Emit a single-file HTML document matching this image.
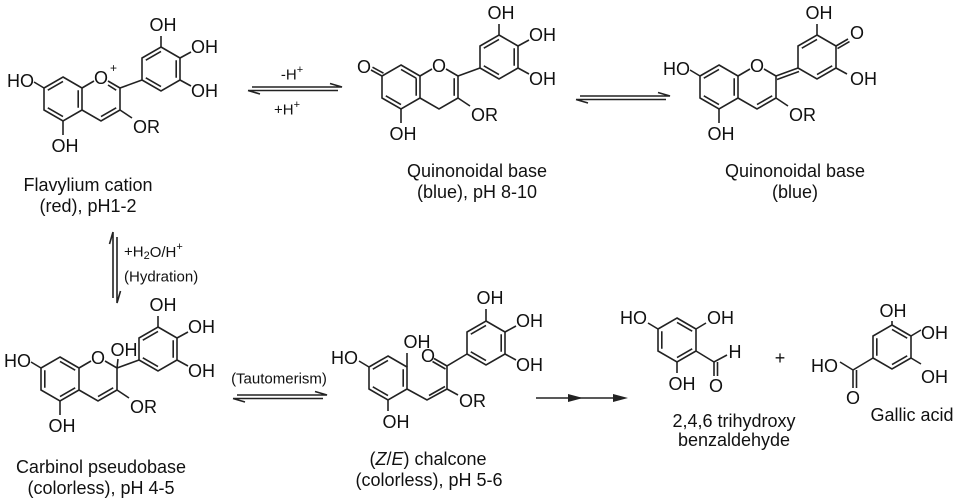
<!DOCTYPE html>
<html><head><meta charset="utf-8"><style>
html,body{margin:0;padding:0;background:#fff;}
svg{display:block;}
text{font-family:"Liberation Sans",Arial,sans-serif;fill:#111;}
.a{font-size:18px;dominant-baseline:central;}
.l{font-size:18px;text-anchor:middle;dominant-baseline:central;}
.s{font-size:15px;dominant-baseline:central;}
path,line{stroke:#222;stroke-width:1.6;fill:none;}
</style></head><body>
<svg width="957" height="498" viewBox="0 0 957 498" xmlns="http://www.w3.org/2000/svg">

<!-- Molecule 1: Flavylium -->
<g>
 <g transform="translate(63,99)">
  <path d="M0,-22 L19,-11 L19,11 L0,22 L-19,11 L-19,-11 Z"/>
  <path d="M-15.2,-8.8 L0,-17.6 M15.2,-8.8 L15.2,8.8 M0,17.6 L-15.2,8.8"/>
 </g>
 <g transform="translate(101,99)">
  <path d="M-19,-11 L-7,-18 M7,-18 L19,-11 L19,11 L0,22 L-19,11"/>
  <path d="M7,-14 L15.2,-8.8 M15.2,8.8 L0,17.6"/>
 </g>
 <g transform="translate(161,69)">
  <path d="M0,-22 L19,-11 L19,11 L0,22 L-19,11 L-19,-11 Z"/>
  <path d="M-15.2,-8.8 L0,-17.6 M15.2,-8.8 L15.2,8.8 M0,17.6 L-15.2,8.8"/>
 </g>
 <path d="M120,88 L142,80 M44,88 L34,82 M63,121 L63,135 M120,110 L132,118 M161,47 L161,36 M180,58 L191,52 M180,80 L191,86"/>
 <text class="a" x="101" y="78" text-anchor="middle">O</text>
 <text x="110" y="72" style="font-size:12px">+</text>
 <text class="a" x="34" y="81" text-anchor="end">HO</text>
 <text class="a" x="65" y="146" text-anchor="middle">OH</text>
 <text class="a" x="133" y="127">OR</text>
 <text class="a" x="163" y="25" text-anchor="middle">OH</text>
 <text class="a" x="191" y="47">OH</text>
 <text class="a" x="191" y="91">OH</text>
</g>
<text class="l" x="88" y="185">Flavylium cation</text>
<text class="l" x="88" y="206">(red), pH1-2</text>

<!-- arrow 1-2 -->
<path d="M252,87 L342,87 L330,83.5 M248,90.5 L338,90.5 M248,90.5 L260,94"/>
<text class="s" x="292" y="75" text-anchor="middle">-H<tspan dy="-5" style="font-size:11px">+</tspan></text>
<text class="s" x="287" y="110" text-anchor="middle">+H<tspan dy="-5" style="font-size:11px">+</tspan></text>

<!-- Molecule 2 -->
<g transform="translate(338,-12)">
 <g transform="translate(63,99)">
  <path d="M0,-22 L19,-11 L19,11 L0,22 L-19,11 L-19,-11 Z"/>
  <path d="M0,-17.6 L15.2,-8.8 M0,17.6 L-15.2,8.8 M15.2,-8.8 L15.2,8.8"/>
 </g>
 <g transform="translate(101,99)">
  <path d="M-19,-11 L-7,-18 M7,-18 L19,-11 L19,11 L0,22 L-19,11"/>
  <path d="M15.2,-8.8 L15.2,8.8"/>
 </g>
 <g transform="translate(161,69)">
  <path d="M0,-22 L19,-11 L19,11 L0,22 L-19,11 L-19,-11 Z"/>
  <path d="M-15.2,-8.8 L0,-17.6 M15.2,-8.8 L15.2,8.8 M0,17.6 L-15.2,8.8"/>
 </g>
 <path d="M120,88 L142,80 M44,88 L33,82 M45.5,85.2 L34.5,79.2 M63,121 L63,135 M120,110 L132,118 M161,47 L161,36 M180,58 L191,52 M180,80 L191,86"/>
 <text class="a" x="101" y="78" text-anchor="middle">O</text>
 <text class="a" x="33" y="79" text-anchor="end">O</text>
 <text class="a" x="65" y="146" text-anchor="middle">OH</text>
 <text class="a" x="133" y="127">OR</text>
 <text class="a" x="163" y="25" text-anchor="middle">OH</text>
 <text class="a" x="191" y="47">OH</text>
 <text class="a" x="191" y="91">OH</text>
</g>
<text class="l" x="477" y="171">Quinonoidal base</text>
<text class="l" x="477" y="192">(blue), pH 8-10</text>

<!-- arrow 2-3 -->
<path d="M580,96 L670,96 L658,92.5 M576,99.5 L666,99.5 M576,99.5 L588,103"/>

<!-- Molecule 3 -->
<g transform="translate(656,-12)">
 <g transform="translate(63,99)">
  <path d="M0,-22 L19,-11 L19,11 L0,22 L-19,11 L-19,-11 Z"/>
  <path d="M-15.2,-8.8 L0,-17.6 M15.2,-8.8 L15.2,8.8 M0,17.6 L-15.2,8.8"/>
 </g>
 <g transform="translate(101,99)">
  <path d="M-19,-11 L-7,-18 M7,-18 L19,-11 L19,11 L0,22 L-19,11"/>
  <path d="M15.2,8.8 L0,17.6"/>
 </g>
 <g transform="translate(161,69)">
  <path d="M0,-22 L19,-11 L19,11 L0,22 L-19,11 L-19,-11 Z"/>
  <path d="M-15.2,-8.8 L0,-17.6 M15.2,8.8 L0,17.6"/>
 </g>
 <path d="M120,88 L142,80 M121,91.5 L143,83.5 M44,88 L34,82 M63,121 L63,135 M120,110 L132,118 M161,47 L161,36 M180,58 L192,51 M181.5,60.6 L193.5,53.6 M180,80 L191,86"/>
 <text class="a" x="101" y="78" text-anchor="middle">O</text>
 <text class="a" x="34" y="81" text-anchor="end">HO</text>
 <text class="a" x="65" y="146" text-anchor="middle">OH</text>
 <text class="a" x="133" y="127">OR</text>
 <text class="a" x="163" y="25" text-anchor="middle">OH</text>
 <text class="a" x="194" y="45">O</text>
 <text class="a" x="194" y="91">OH</text>
</g>
<text class="l" x="795" y="171">Quinonoidal base</text>
<text class="l" x="795" y="192">(blue)</text>

<!-- vertical arrow -->
<path d="M113,232 L113,298 M113,232 L109.5,244 M117,237 L117,303 L120.5,291"/>
<text class="s" x="124" y="252">+H<tspan dy="4" style="font-size:11px">2</tspan><tspan dy="-4">O/H</tspan><tspan dy="-5" style="font-size:11px">+</tspan></text>
<text class="s" x="124" y="277">(Hydration)</text>

<!-- Molecule 4: Carbinol -->
<g transform="translate(-3,280)">
 <g transform="translate(63,99)">
  <path d="M0,-22 L19,-11 L19,11 L0,22 L-19,11 L-19,-11 Z"/>
  <path d="M-15.2,-8.8 L-15.2,8.8 M0,-17.6 L15.2,-8.8 M15.2,8.8 L0,17.6"/>
 </g>
 <g transform="translate(101,99)">
  <path d="M-19,-11 L-7,-18 M7,-18 L19,-11 L19,11 L0,22 L-19,11"/>
  <path d="M15.2,8.8 L0,17.6"/>
 </g>
 <g transform="translate(161,69)">
  <path d="M0,-22 L19,-11 L19,11 L0,22 L-19,11 L-19,-11 Z"/>
  <path d="M-15.2,-8.8 L0,-17.6 M15.2,-8.8 L15.2,8.8 M0,17.6 L-15.2,8.8"/>
 </g>
 <path d="M120,88 L142,80 M120,88 L121,79 M44,88 L34,82 M63,121 L63,135 M120,110 L132,118 M161,47 L161,36 M180,58 L191,52 M180,80 L191,86"/>
 <text class="a" x="101" y="78" text-anchor="middle">O</text>
 <text class="a" x="127" y="70" text-anchor="middle">OH</text>
 <text class="a" x="34" y="81" text-anchor="end">HO</text>
 <text class="a" x="65" y="146" text-anchor="middle">OH</text>
 <text class="a" x="133" y="127">OR</text>
 <text class="a" x="166" y="25" text-anchor="middle">OH</text>
 <text class="a" x="191" y="47">OH</text>
 <text class="a" x="191" y="91">OH</text>
</g>
<text class="l" x="101" y="467">Carbinol pseudobase</text>
<text class="l" x="101" y="488">(colorless), pH 4-5</text>

<!-- tautomerism arrow -->
<text class="s" x="279" y="379" text-anchor="middle">(Tautomerism)</text>
<path d="M237,395 L327,395 L315,391.5 M233,398.5 L323,398.5 M233,398.5 L245,402"/>

<!-- Chalcone -->
<g transform="translate(388,378)">
 <path d="M0,-22 L19,-11 L19,11 L0,22 L-19,11 L-19,-11 Z"/>
 <path d="M-15.2,-8.8 L0,-17.6 M15.2,-8.8 L15.2,8.8 M0,17.6 L-15.2,8.8"/>
</g>
<g transform="translate(486,343)">
 <path d="M0,-22 L19,-11 L19,11 L0,22 L-19,11 L-19,-11 Z"/>
 <path d="M-15.2,-8.8 L0,-17.6 M15.2,-8.8 L15.2,8.8 M0,17.6 L-15.2,8.8"/>
</g>
<path d="M369,367 L359,361 M407,367 L407,353 M388,400 L388,411 M407,389 L427,400 L447,389 M429,395.5 L445,386.5 M447,389 L447,366 L467,354 M447,366 L434,358.5 M445.5,369 L432.5,361.5 M447,389 L458,395 M486,321 L486,309 M505,332 L516,326 M505,354 L516,360"/>
<text class="a" x="358" y="358" text-anchor="end">HO</text>
<text class="a" x="417" y="342" text-anchor="middle">OH</text>
<text class="a" x="396" y="422" text-anchor="middle">OH</text>
<text class="a" x="428" y="356" text-anchor="middle">O</text>
<text class="a" x="459" y="401">OR</text>
<text class="a" x="490" y="298" text-anchor="middle">OH</text>
<text class="a" x="516" y="321">OH</text>
<text class="a" x="516" y="365">OH</text>
<text class="l" x="428" y="459">(<tspan font-style="italic">Z</tspan>/<tspan font-style="italic">E</tspan>) chalcone</text>
<text class="l" x="429" y="480">(colorless), pH 5-6</text>

<!-- degradation arrow -->
<path d="M536,398 L622,398"/>
<polygon points="583,398 568,394 568,402" fill="#222"/>
<polygon points="628,398 613,394 613,402" fill="#222"/>

<!-- 2,4,6 trihydroxybenzaldehyde -->
<g transform="translate(677,340)">
 <path d="M0,-22 L19,-11 L19,11 L0,22 L-19,11 L-19,-11 Z"/>
 <path d="M-15.2,-8.8 L-15.2,8.8 M0,-17.6 L15.2,-8.8 M15.2,8.8 L0,17.6"/>
</g>
<path d="M658,329 L648,323 M696,329 L706,323 M677,362 L677,373 M696,351 L714,362 L727,355 M714,362 L714,376 M717.5,362 L717.5,376"/>
<text class="a" x="647" y="318" text-anchor="end">HO</text>
<text class="a" x="707" y="318">OH</text>
<text class="a" x="682" y="384" text-anchor="middle">OH</text>
<text class="a" x="735" y="352" text-anchor="middle">H</text>
<text class="a" x="716" y="386" text-anchor="middle">O</text>
<text class="l" x="734" y="421">2,4,6 trihydroxy</text>
<text class="l" x="734" y="440">benzaldehyde</text>

<text class="a" x="780" y="358" text-anchor="middle">+</text>

<!-- Gallic acid -->
<g transform="translate(892,347)">
 <path d="M0,-22 L19,-11 L19,11 L0,22 L-19,11 L-19,-11 Z"/>
 <path d="M-15.2,-8.8 L-15.2,8.8 M0,-17.6 L15.2,-8.8 M15.2,8.8 L0,17.6"/>
</g>
<path d="M892,325 L892,321 M911,336 L921,330 M911,358 L921,364 M873,358 L853,370 L840,362 M853,370 L853,388 M856.5,370 L856.5,388"/>
<text class="a" x="893" y="311" text-anchor="middle">OH</text>
<text class="a" x="921" y="333">OH</text>
<text class="a" x="921" y="377">OH</text>
<text class="a" x="838" y="366" text-anchor="end">HO</text>
<text class="a" x="853" y="398" text-anchor="middle">O</text>
<text class="l" x="912" y="415">Gallic acid</text>

</svg>
</body></html>
